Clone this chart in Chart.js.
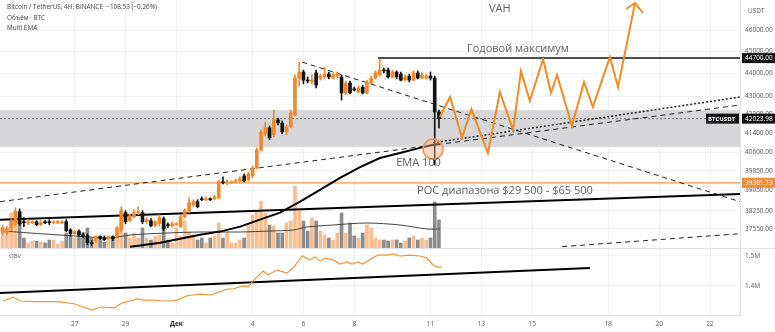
<!DOCTYPE html>
<html>
<head>
<meta charset="utf-8">
<script src="https://cdn.jsdelivr.net/npm/chart.js@4.4.0/dist/chart.umd.min.js"></script>
<style>
html, body { margin: 0; padding: 0; background: #fff; }
#wrap { position: relative; width: 775px; height: 332px; overflow: hidden; font-family: "Open Sans", sans-serif; }
#main { position: absolute; left: 0; top: 0; }
#lower { position: absolute; left: 0; top: 249px; }
.sep { position: absolute; left: 0; width: 775px; height: 1px; background: #e0e3eb; }
.legend { position: absolute; left: 7px; font-size: 6.4px; color: #3c3c3c; line-height: 1; white-space: nowrap; }
</style>
</head>
<body>
<div id="wrap">
  <canvas id="main" width="775" height="248"></canvas>
  <div class="sep" style="top:248px"></div>
  <canvas id="lower" width="775" height="83"></canvas>
  <div class="legend" style="top:4px">Bitcoin / TetherUS, 4H, BINANCE&nbsp; −108.53 (−0.26%)</div>
  <div class="legend" style="top:15px">Объём · BTC</div>
  <div class="legend" style="top:25px">Multi EMA</div>
  <div class="legend" style="top:253px;left:9px;font-size:6px;color:#555">OBV</div>
</div>
<script>
// 4H candles, time in days from 1 Dec (0 = Дек)
const candleStart = -7;
const candleStep = 1 / 6;

const opens = [37450,37410,37410,37560,37720,38220,37830,37790,37790,37830,37720,37830,37830,37790,37790,37790,37830,37520,37370,37450,
  37330,37290,37030,37110,37260,37220,37180,37260,37290,37520,38180,37870,38020,38180,38180,37830,37870,37680,37750,37950,
  37720,37680,37720,37640,38020,38260,38490,38610,38720,38690,38720,38720,38760,39400,39360,39360,39400,39440,39640,39480,
  39640,39960,40700,41380,41630,41330,41970,41840,41460,41670,42180,43800,44070,43710,43630,44030,43800,43850,43980,43800,
  43890,43850,43140,43580,43320,43180,43400,43140,43580,43800,43940,44160,44160,43850,44070,43980,43710,43890,43710,44030,
  43800,43800,43890,43800,42310];
const highs = [37680,37680,37640,37950,38370,38330,37990,37910,37870,37870,37870,37870,37910,37870,37870,37870,37910,37560,37490,37520,
  37410,37370,37110,37290,37290,37290,37290,37290,37640,38410,38260,38140,38300,38410,38260,37990,37950,37870,38100,38020,
  37790,37830,37790,38100,38330,38760,38690,38690,38800,38800,38760,38870,39480,39600,39480,39440,39520,39600,39720,39800,
  40040,40790,41550,41880,41710,42390,42050,41930,41760,42390,43940,44520,44160,43850,43940,44160,43980,44300,44070,44030,
  44070,43940,43670,43670,43400,43450,43490,43710,43890,44120,44660,44250,44250,44160,44120,44070,43940,43980,44120,44120,
  44030,43980,44070,43890,42390];
const lows = [37370,37330,37330,37490,37680,37680,37640,37720,37750,37680,37680,37750,37720,37750,37750,37750,37450,37290,37330,37290,
  37220,36950,36920,37030,37140,37110,37140,37110,37220,37450,37750,37830,37990,38100,37750,37790,37640,37640,37680,37490,
  37600,37640,37680,37600,37990,38180,38410,38370,38650,38650,38650,38690,38720,39320,39280,39320,39360,39400,39400,39440,
  39560,39920,40660,41290,41120,41250,41760,41380,41330,41630,42140,43450,43540,43580,43540,43360,43710,43760,43760,43760,
  43800,42830,43050,43100,43230,43140,43100,43100,43540,43760,43890,44030,43800,43800,43760,43670,43670,43630,43670,43760,
  43760,43760,43710,40080,41630];
const closes = [37600,37600,37560,37830,38220,37750,37790,37830,37830,37720,37790,37790,37790,37830,37830,37830,37490,37370,37450,37330,
  37290,37030,36990,37260,37180,37140,37260,37180,37600,38260,37830,38060,38180,38220,37830,37910,37680,37830,37990,37560,
  37680,37750,37750,38020,38260,38570,38610,38410,38690,38720,38690,38800,39400,39360,39400,39400,39440,39520,39440,39720,
  39960,40700,41460,41630,41210,41970,41840,41460,41670,42260,43800,44070,43710,43670,43710,43490,43890,43980,43850,43940,
  43980,43140,43580,43140,43270,43360,43140,43630,43800,44030,44160,44120,43850,44070,43850,43710,43850,43710,44030,43800,
  43940,43890,43800,42310,42023.98];
const volumes = [2000,3000,4000,7000,7400,6600,2000,1000,1400,1400,1200,1000,1600,1600,800,1400,3000,2600,2000,3400,
  3000,4000,2000,2400,1600,1200,1600,2000,3400,7600,3000,2000,3000,2000,4000,2000,1600,2400,2600,4400,
  1600,1000,4000,2400,5400,3200,2600,1600,2000,1000,2000,2400,5000,2000,3000,1000,1000,1600,2000,4600,
  6600,7400,9400,7000,4600,4400,3000,3000,5000,5400,12400,7400,5400,3400,6000,5400,3400,2600,2000,1600,
  3000,7000,3000,5000,2400,2000,3000,4600,4000,2000,1600,1600,1400,1600,1600,1000,1400,2000,2400,1600,
  2000,1600,2000,9200,5600];

// volume MA and EMA 100
const volMaDays = [-6.82,-5.76,-4.58,-3.40,-2.60,-1.82,-0.37,0.93,2.51,3.69,4.59,5.14,6.16,7.50,8.80,9.86,10.37];
const volMaValues = [3400,3000,2600,2200,2000,2600,3000,3200,3200,3400,3600,4200,4600,5000,4600,3800,3800];
const emaDays = [-1.82,-1.43,-0.64,0.15,0.93,1.72,2.51,3.29,4.08,4.87,5.65,6.44,7.23,8.01,8.80,9.59,10.06,10.37];
const emaValues = [36880,36920,37030,37180,37330,37450,37640,37910,38180,38610,39080,39560,40000,40370,40580,40790,40910,40950];

// projected path (orange zigzag) and its arrow head
const projDays = [10.37,10.77,11.24,11.61,12.26,12.73,13.25,13.56,13.91,14.43,14.74,14.98,15.57,16.04,16.39,17.06,17.38,18.05];
const projPrices = [42095,42964,41207,42436,40577,43183,41545,44116,42790,44660,43139,43938,41713,43625,42524,44750,43404,47285];
const arrowDays = [17.70, 18.05, 18.36];
const arrowPrices = [46996, 47285, 46805];

// OBV
const obvDays = [-6.82,-6.42,-6.15,-5.64,-4.97,-4.58,-3.99,-3.32,-3.00,-2.45,-2.14,-1.82,-1.55,-1.31,-0.92,-0.52,-0.25,0.03,
  0.42,0.66,0.93,1.33,1.60,2.00,2.23,2.62,2.82,3.02,3.41,3.61,3.96,4.36,4.59,4.95,5.26,5.46,5.65,5.85,6.16,6.44,
  6.71,6.91,7.15,7.33,7.61,7.93,8.29,8.52,8.80,9.19,9.59,9.86,10.10,10.29,10.45];
const obvValues = [1350000,1363000,1350000,1348000,1348000,1347000,1340000,1320000,1330000,1327000,1343000,1350000,1357000,
  1353000,1353000,1350000,1350000,1353000,1367000,1370000,1373000,1370000,1377000,1390000,1390000,1400000,1397000,
  1417000,1450000,1437000,1453000,1443000,1460000,1500000,1487000,1497000,1483000,1493000,1487000,1473000,1480000,
  1473000,1480000,1473000,1487000,1503000,1503000,1507000,1500000,1503000,1500000,1493000,1470000,1463000,1463000];

const dayTicks = [-4, -2, 0, 3, 5, 7, 10, 12, 14, 17, 19, 21];
const dayLabels = ['27', '29', 'Дек', '4', '6', '8', '11', '13', '15', '18', '20', '22'];
const priceTicks = [46000, 45000, 44000, 43000, 42200, 41400, 40600, 39850, 39050, 38250, 37550];
const obvTicks = [1400000, 1500000];

const yearHigh = 44700;
const lastPrice = 42023.98;
const pocPrice = 39361.73;
const bandLow = 40830, bandHigh = 42390;

// drawn trendlines, [day, price]
const downTrend = [[4.95, 44520], [22.18, 38610]];
const upTrendDashed = [[-6.94, 38610], [22.18, 42610]];
const upTrendDotted = [[10.10, 41000], [22.18, 42960]];
const supportLine = [[-6.94, 37910], [22.18, 38910]];
const lowerDashed = [[15.18, 36880], [22.18, 37370]];
const yearHighFrom = 7.93;
const emaTouch = [10.10, 40740];
const obvTrend = [[-6.94, 1376700], [16.27, 1460000]];

const xMin = -6.94, xMax = 22.18;
const UP = 'rgb(239,137,44)', DOWN = '#141414';
const GRID = 'rgba(42,46,57,0.06)';
const FONT = '"Open Sans", sans-serif';

Chart.defaults.font.family = FONT;

const days = opens.map((_, i) => candleStart + i * candleStep);
const isUp = opens.map((o, i) => closes[i] >= o);
const pts = (xs, ys) => xs.map((x, i) => ({ x: x, y: ys[i] }));
const seg = arr => arr.map(p => ({ x: p[0], y: p[1] }));

function lineDs(data, color, width, dash, order) {
  return { type: 'line', data: data, borderColor: color, borderWidth: width, borderDash: dash || [],
    pointRadius: 0, fill: false, tension: 0, order: order, yAxisID: 'y' };
}

const dayAxis = (showTicks) => ({
  type: 'linear', min: xMin, max: xMax, bounds: 'data', offset: false,
  afterBuildTicks: s => { s.ticks = dayTicks.map(v => ({ value: v })); },
  grid: { color: GRID, drawTicks: false, offset: false },
  border: { display: showTicks, color: '#e0e3eb' },
  ticks: {
    display: showTicks, autoSkip: false, maxRotation: 0, padding: 5,
    callback: v => dayLabels[dayTicks.indexOf(v)],
    font: c => ({ family: FONT, size: 6.5, weight: c.tick && c.tick.value === 0 ? 'bold' : 'normal' }),
    color: c => c.tick && c.tick.value === 0 ? '#222' : '#555'
  },
  afterFit: s => { s.height = showTicks ? 17 : 0; s.paddingLeft = 0; s.paddingRight = 0; s.paddingTop = 0; s.paddingBottom = 0; }
});

const notes = [
  { text: 'VAH', x: 12.73, y: 46990 },
  { text: 'Годовой максимум', x: 13.44, y: 45140 },
  { text: 'EMA 100', x: 9.53, y: 40164 },
  { text: 'POC диапазона $29 500 - $65 500', x: 12.93, y: 39033 }
];

const overlay = {
  id: 'overlay',
  beforeDatasetsDraw(chart) {
    const { ctx, chartArea: a, scales: { y } } = chart;
    const t = y.getPixelForValue(bandHigh), b = y.getPixelForValue(bandLow);
    ctx.save();
    ctx.fillStyle = '#d7d7d9';
    ctx.fillRect(a.left, t, a.right - a.left, b - t);
    ctx.restore();
  },
  afterDatasetsDraw(chart) {
    const { ctx, scales: { x, y } } = chart;
    ctx.save();
    ctx.font = '11px ' + FONT;
    ctx.fillStyle = '#5e5e5e';
    ctx.textAlign = 'center';
    ctx.textBaseline = 'middle';
    notes.forEach(n => ctx.fillText(n.text, x.getPixelForValue(n.x), y.getPixelForValue(n.y)));
    ctx.restore();
  },
  afterDraw(chart) {
    const { ctx, chartArea: a, scales: { y } } = chart;
    ctx.save();
    ctx.font = '6.5px ' + FONT;
    ctx.textBaseline = 'middle';
    ctx.fillStyle = '#555';
    ctx.fillText('USDT', a.right + 8, 11);
    const box = (v, bg) => {
      const py = y.getPixelForValue(v);
      ctx.fillStyle = bg;
      ctx.fillRect(a.right + 2, py - 5, 775 - a.right - 2, 10);
      ctx.fillStyle = '#fff';
      ctx.fillText(v.toFixed(2), a.right + 5, py + 0.5);
      return py;
    };
    box(yearHigh, '#131313');
    const py = box(lastPrice, '#131313');
    box(pocPrice, 'rgb(240,140,50)');
    ctx.fillStyle = '#131313';
    ctx.fillRect(a.right - 34, py - 5, 33, 10);
    ctx.fillStyle = '#fff';
    ctx.font = 'bold 6px ' + FONT;
    ctx.fillText('BTCUSDT', a.right - 32, py + 0.5);
    ctx.restore();
  }
};

new Chart(document.getElementById('main'), {
  type: 'bar',
  data: {
    datasets: [
      { type: 'line', data: [{ x: emaTouch[0], y: emaTouch[1] }], showLine: false, pointRadius: 10,
        backgroundColor: 'rgba(246,178,125,0.45)', borderColor: 'rgb(236,150,80)', borderWidth: 1.5, order: 0, yAxisID: 'y' },
      lineDs(pts(projDays, projPrices), 'rgb(240,140,35)', 2, null, 1),
      lineDs(pts(arrowDays, arrowPrices), 'rgb(240,140,35)', 2, null, 1),
      { data: days.map((d, i) => ({ x: d, y: [opens[i], closes[i]] })), backgroundColor: isUp.map(u => u ? UP : DOWN),
        barThickness: 3, minBarLength: 1, grouped: false, order: 2, yAxisID: 'y' },
      { data: days.map((d, i) => ({ x: d, y: [lows[i], highs[i]] })), backgroundColor: isUp.map(u => u ? UP : DOWN),
        barThickness: 1, grouped: false, order: 3, yAxisID: 'y' },
      lineDs(pts(emaDays, emaValues), '#000', 2, null, 4),
      lineDs(seg(supportLine), '#000', 2, null, 5),
      lineDs(seg(downTrend), '#222', 1, [5, 4], 5),
      lineDs(seg(upTrendDashed), '#222', 1, [5, 4], 5),
      lineDs(seg(lowerDashed), '#222', 1, [5, 4], 5),
      lineDs(seg(upTrendDotted), '#222', 1.5, [2, 2], 5),
      lineDs([{ x: yearHighFrom, y: yearHigh }, { x: xMax, y: yearHigh }], '#111', 1.5, null, 5),
      lineDs([{ x: xMin, y: pocPrice }, { x: xMax, y: pocPrice }], 'rgb(236,150,70)', 1.2, null, 6),
      lineDs([{ x: xMin, y: lastPrice }, { x: xMax, y: lastPrice }], 'rgba(60,60,60,0.6)', 1, [2, 2], 7),
      { type: 'line', data: pts(volMaDays, volMaValues), borderColor: '#444', borderWidth: 1, pointRadius: 0,
        tension: 0.3, order: 8, yAxisID: 'vol' },
      { data: days.map((d, i) => ({ x: d, y: volumes[i] })), backgroundColor: isUp.map(u => u ? 'rgb(247,190,145)' : 'rgb(140,140,140)'),
        barThickness: 3, grouped: false, order: 9, yAxisID: 'vol' }
    ]
  },
  options: {
    responsive: false,
    animation: false,
    events: [],
    layout: { padding: 0, autoPadding: false },
    plugins: { legend: { display: false }, tooltip: { enabled: false } },
    scales: {
      x: dayAxis(false),
      y: {
        type: 'logarithmic', position: 'right', min: 36829, max: 47430, bounds: 'data',
        afterBuildTicks: s => { s.ticks = priceTicks.map(v => ({ value: v })); },
        grid: { color: GRID, drawTicks: false },
        border: { display: true, color: '#e0e3eb' },
        ticks: { autoSkip: false, padding: 5, color: '#555', font: { size: 6.5 }, callback: v => Number(v).toFixed(2) },
        afterFit: s => { s.width = 35; s.paddingTop = 0; s.paddingBottom = 0; s.paddingLeft = 0; s.paddingRight = 0; }
      },
      vol: { type: 'linear', position: 'right', display: false, min: 0, max: 49600,
        ticks: { display: false }, grid: { display: false } }
    }
  },
  plugins: [overlay]
});

new Chart(document.getElementById('lower'), {
  type: 'line',
  data: {
    datasets: [
      { data: pts(obvDays, obvValues), borderColor: 'rgb(238,150,60)', borderWidth: 1.2, pointRadius: 0, tension: 0 },
      { data: seg(obvTrend), borderColor: '#000', borderWidth: 1.8, pointRadius: 0, tension: 0 }
    ]
  },
  options: {
    responsive: false,
    animation: false,
    events: [],
    layout: { padding: 0, autoPadding: false },
    plugins: { legend: { display: false }, tooltip: { enabled: false } },
    scales: {
      x: dayAxis(true),
      y: {
        type: 'linear', position: 'right', min: 1303300, max: 1523300, bounds: 'data',
        afterBuildTicks: s => { s.ticks = obvTicks.map(v => ({ value: v })); },
        grid: { color: GRID, drawTicks: false },
        border: { display: true, color: '#e0e3eb' },
        ticks: { autoSkip: false, padding: 5, color: '#555', font: { size: 6.5 }, callback: v => (v / 1e6).toFixed(1) + 'M' },
        afterFit: s => { s.width = 35; s.paddingTop = 0; s.paddingBottom = 0; }
      }
    }
  }
});
</script>
</body>
</html>
